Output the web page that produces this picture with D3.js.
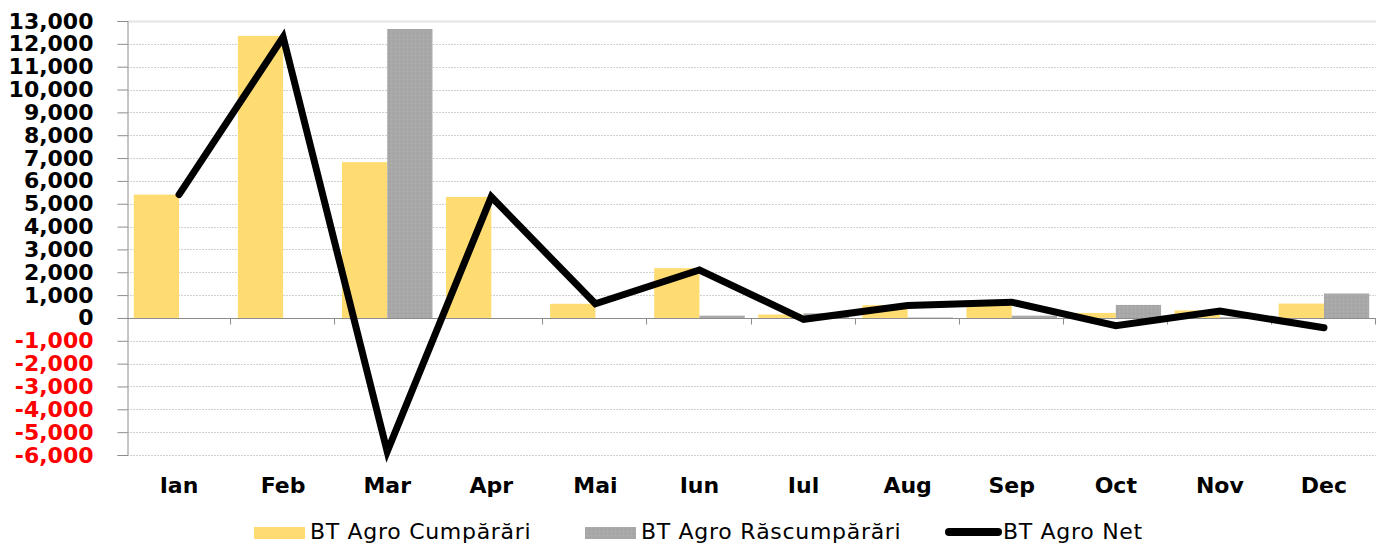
<!DOCTYPE html>
<html>
<head>
<meta charset="utf-8">
<script src="https://cdn.jsdelivr.net/npm/d3@7"></script>
<style>
  body { margin: 0; background: #ffffff; }
  svg { display: block; }
</style>
</head>
<body>
<div id="chart"></div>
<script>
// data
const months = ['Ian', 'Feb', 'Mar', 'Apr', 'Mai', 'Iun', 'Iul', 'Aug', 'Sep', 'Oct', 'Nov', 'Dec'];
const cumparari = [5400, 12350, 6820, 5300, 620, 2180, 150, 560, 780, 220, 330, 630];
const rascumparari = [0, 0, 12650, 0, 0, 100, 200, 20, 100, 570, 30, 1070];
const net = [5400, 12300, -5850, 5300, 620, 2100, -60, 540, 690, -340, 300, -430];
const yTicks = d3.range(-6000, 13001, 1000);

const seriesNames = ['BT Agro Cumpărări', 'BT Agro Răscumpărări', 'BT Agro Net'];

const width = 1379, height = 544;
const plotLeft = 127, plotRight = 1376, plotTop = 21, plotBottom = 455;

const svg = d3.select('#chart').append('svg')
  .attr('width', width)
  .attr('height', height);

const defs = svg.append('defs');
const pat = defs.append('pattern')
  .attr('id', 'greyDots')
  .attr('width', 4).attr('height', 4)
  .attr('patternUnits', 'userSpaceOnUse');
pat.append('rect').attr('width', 4).attr('height', 4).attr('fill', '#a8a8a8');
pat.append('rect').attr('x', 1).attr('y', 1).attr('width', 1).attr('height', 1).attr('fill', '#9c9c9c');
pat.append('rect').attr('x', 3).attr('y', 3).attr('width', 1).attr('height', 1).attr('fill', '#b0b0b0');

let y = d3.scaleLinear()
  .domain([-6000, 13000])
  .range([plotBottom, plotTop]);

let x = d3.scaleBand()
  .domain(months)
  .range([plotLeft, plotRight])
  .paddingInner(0.13)
  .paddingOuter(0.065);

let xs = d3.scaleBand()
  .domain([0, 1])
  .range([0, x.bandwidth()]);

const fmt = d => d3.format(',')(d).replace('\u2212', '-');

// grid lines
svg.append('g')
  .selectAll('line')
  .data(yTicks.filter(d => d !== 0))
  .enter()
  .append('line')
  .attr('x1', plotLeft)
  .attr('x2', plotRight)
  .attr('y1', d => Math.round(y(d)) + 0.5)
  .attr('y2', d => Math.round(y(d)) + 0.5)
  .attr('stroke', d => d === 13000 ? '#e4e4e4' : '#d0d0d0')
  .attr('stroke-width', d => d === 13000 ? 2 : 1)
  .attr('stroke-dasharray', d => d === 13000 ? null : '2,1');

// bars
const bars = svg.append('g');

bars.selectAll('.cump')
  .data(cumparari)
  .enter()
  .append('rect')
  .attr('class', 'cump')
  .attr('x', (d, i) => x(months[i]) + xs(0))
  .attr('width', xs.bandwidth())
  .attr('y', d => y(Math.max(0, d)))
  .attr('height', d => Math.abs(y(d) - y(0)))
  .attr('fill', '#ffdc72');

bars.selectAll('.rasc')
  .data(rascumparari)
  .enter()
  .append('rect')
  .attr('class', 'rasc')
  .attr('x', (d, i) => x(months[i]) + xs(1))
  .attr('width', xs.bandwidth())
  .attr('y', d => y(Math.max(0, d)))
  .attr('height', d => Math.abs(y(d) - y(0)))
  .attr('fill', 'url(#greyDots)');

// y axis
const yAxis = svg.append('g')
  .attr('transform', `translate(${plotLeft + 0.5},0)`)
  .call(d3.axisLeft(y).tickValues(yTicks).tickSize(10).tickPadding(24)
    .tickFormat(fmt));

yAxis.select('.domain').attr('stroke', '#8c8c8c');
yAxis.selectAll('.tick line').attr('stroke', '#8c8c8c');
yAxis.selectAll('.tick text')
  .attr('font-family', '"DejaVu Sans", sans-serif')
  .attr('font-weight', 'bold')
  .attr('font-size', 22)
  .attr('fill', d => d < 0 ? '#ff0000' : '#000000');

// x axis on the zero line
const zeroY = Math.round(y(0)) + 0.5;
svg.append('line')
  .attr('x1', plotLeft).attr('x2', plotRight)
  .attr('y1', zeroY).attr('y2', zeroY)
  .attr('stroke', '#8c8c8c');

const boundaries = months.map((m, i) => plotLeft + (i + 1) * x.step());
svg.append('g')
  .selectAll('line')
  .data(boundaries)
  .enter()
  .append('line')
  .attr('x1', d => Math.round(d) - 0.5)
  .attr('x2', d => Math.round(d) - 0.5)
  .attr('y1', zeroY)
  .attr('y2', zeroY + 6)
  .attr('stroke', '#8c8c8c');

svg.append('g')
  .selectAll('text')
  .data(months)
  .enter()
  .append('text')
  .attr('x', d => x(d) + x.bandwidth() / 2)
  .attr('y', 493)
  .attr('text-anchor', 'middle')
  .attr('font-family', '"DejaVu Sans", sans-serif')
  .attr('font-weight', 'bold')
  .attr('font-size', 22)
  .attr('fill', '#000')
  .text(d => d);

// net line
const line = d3.line()
  .x((d, i) => x(months[i]) + x.bandwidth() / 2)
  .y(d => y(d));

svg.append('path')
  .datum(net)
  .attr('d', line)
  .attr('fill', 'none')
  .attr('stroke', '#000')
  .attr('stroke-width', 7)
  .attr('stroke-linejoin', 'miter')
  .attr('stroke-linecap', 'round');

// legend
const legend = svg.append('g');
const legendItems = [
  { name: seriesNames[0], x: 254, type: 'rect', fill: '#ffdc72' },
  { name: seriesNames[1], x: 585, type: 'rect', fill: 'url(#greyDots)' },
  { name: seriesNames[2], x: 945, type: 'line' }
];

legendItems.forEach(it => {
  if (it.type === 'rect') {
    legend.append('rect')
      .attr('x', it.x).attr('y', 527)
      .attr('width', 51).attr('height', 12)
      .attr('fill', it.fill);
  } else {
    legend.append('line')
      .attr('x1', it.x + 4).attr('x2', it.x + 53)
      .attr('y1', 532).attr('y2', 532)
      .attr('stroke', '#000')
      .attr('stroke-width', 8)
      .attr('stroke-linecap', 'round');
  }
  legend.append('text')
    .attr('x', it.x + (it.type === 'rect' ? 56 : 58))
    .attr('y', 539)
    .attr('font-family', '"DejaVu Sans", sans-serif')
    .attr('font-size', 22)
    .attr('letter-spacing', 0.7)
    .attr('fill', '#000')
    .text(it.name);
});
</script>
</body>
</html>
